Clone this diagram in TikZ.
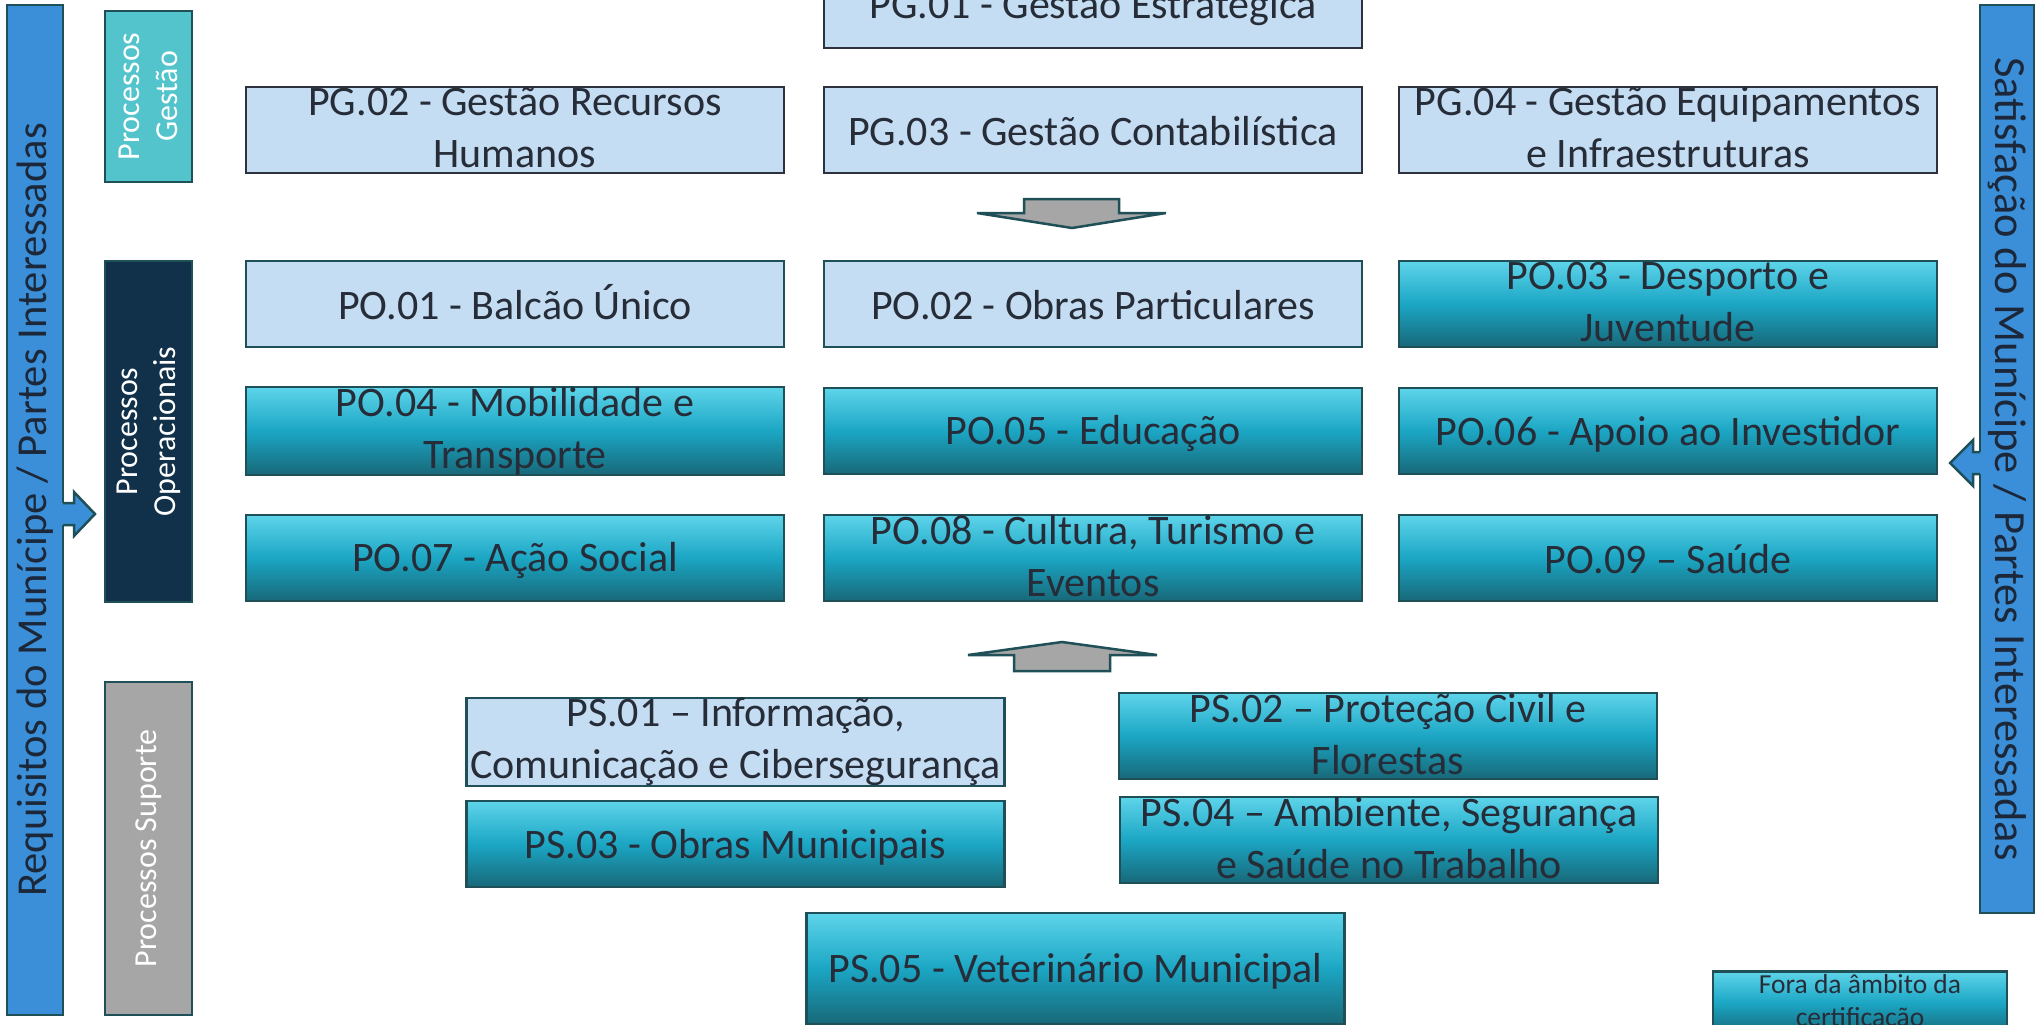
\documentclass[tikz,border=0pt]{standalone}
\usepackage{fontspec}
\setmainfont{Carlito}
\usepackage{tikz}
\definecolor{boxline}{RGB}{31,80,88}
\definecolor{pgline}{RGB}{45,50,62}
\definecolor{lightfill}{RGB}{197,221,242}
\definecolor{cytop}{RGB}{94,212,234}
\definecolor{cymid}{RGB}{27,166,196}
\definecolor{cybot}{RGB}{24,104,120}
\definecolor{txt}{RGB}{38,44,56}
\definecolor{sidetxt}{RGB}{28,40,58}
\definecolor{sidefill}{RGB}{59,143,216}
\definecolor{gestfill}{RGB}{84,196,204}
\definecolor{opfill}{RGB}{17,48,73}
\definecolor{supfill}{RGB}{166,166,166}
\newcommand{\bxstrut}{\rule[-5pt]{0pt}{40pt}}

\begin{document}
\begin{tikzpicture}[x=1pt,y=-1pt]
\tikzstyle{every node}+=[inner sep=0pt,outer sep=0pt]
\tikzstyle{proc}=[draw=boxline,line width=2.5pt,text=txt,align=center,minimum width=538,minimum height=86,font=\fontsize{42}{52}\selectfont,execute at begin node=\bxstrut,execute at end node=\bxstrut]
\tikzstyle{lightbox}=[proc,fill=lightfill]
\tikzstyle{pgbox}=[lightbox,draw=pgline]
\tikzstyle{gradbox}=[proc,top color=cytop,bottom color=cybot,middle color=cymid]
\tikzstyle{sidebar}=[draw=boxline,line width=2.5pt,fill=sidefill,text=sidetxt]
\tikzstyle{group}=[draw=boxline,line width=2.5pt,text=white,align=center,rotate=90,minimum height=87,font=\fontsize{32}{38}\selectfont]
\tikzstyle{blockarrow}=[draw=boxline,line width=2.5pt,fill=supfill,line join=miter]
\useasboundingbox (0,0) rectangle (2040,1025);
\fill[white] (0,0) rectangle (2040,1025);

\node[sidebar,rotate=90,minimum width=1010,minimum height=56,font=\fontsize{42.6}{50}\selectfont] (req) at (35,510) {Requisitos do Munícipe / Partes Interessadas};
\node[sidebar,rotate=-90,minimum width=908,minimum height=54,font=\fontsize{44.5}{50}\selectfont] (sat) at (2007,459) {Satisfação do Munícipe / Partes Interessadas};
\fill[sidefill] (60,503) -- (74,503) -- (74,492) -- (95,514) -- (74,536) -- (74,525) -- (60,525) -- cycle;
\draw[boxline,line width=2.5pt] (63,503) -- (74,503) -- (74,492) -- (95,514) -- (74,536) -- (74,525) -- (63,525);
\fill[sidefill] (1983,452) -- (1973,452) -- (1973,440) -- (1950,463) -- (1973,486) -- (1973,474) -- (1983,474) -- cycle;
\draw[boxline,line width=2.5pt] (1980,452) -- (1973,452) -- (1973,440) -- (1950,463) -- (1973,486) -- (1973,474) -- (1980,474);

\node[group,fill=gestfill,minimum width=171] (gest) at (148.5,96.5) {Processos\\Gestão};
\node[group,fill=opfill,minimum width=341] (oper) at (148.5,431.5) {Processos\\Operacionais};
\node[group,fill=supfill,minimum width=333] (sup) at (148.5,848.5) {Processos Suporte};

\node[pgbox] (pg01) at (1093,5) {PG.01 - Gestão Estratégica};
\node[pgbox] (pg02) at (515,130) {PG.02 - Gestão Recursos\\Humanos};
\node[pgbox] (pg03) at (1093,130) {PG.03 - Gestão Contabilística};
\node[pgbox] (pg04) at (1668,130) {PG.04 - Gestão Equipamentos\\e Infraestruturas};

\draw[blockarrow] (1024,199) -- (1119,199) -- (1119,213) -- (1166,213) -- (1072,228) -- (977,213) -- (1024,213) -- cycle;

\node[lightbox] (po01) at (515,304) {PO.01 - Balcão Único};
\node[lightbox] (po02) at (1093,304) {PO.02 - Obras Particulares};
\node[gradbox] (po03) at (1668,304) {PO.03 - Desporto e\\Juventude};
\node[gradbox] (po04) at (515,431) {PO.04 - Mobilidade e\\Transporte};
\node[gradbox] (po05) at (1093,431) {PO.05 - Educação};
\node[gradbox] (po06) at (1668,431) {PO.06 - Apoio ao Investidor};
\node[gradbox] (po07) at (515,558) {PO.07 - Ação Social};
\node[gradbox] (po08) at (1093,558) {PO.08 - Cultura, Turismo e\\Eventos};
\node[gradbox] (po09) at (1668,558) {PO.09 – Saúde};

\draw[blockarrow] (1014,671) -- (1110,671) -- (1110,655) -- (1157,655) -- (1062,642) -- (968,655) -- (1014,655) -- cycle;

\node[lightbox] (ps01) at (735.5,742) {PS.01 – Informação,\\Comunicação e Cibersegurança};
\node[gradbox] (ps02) at (1388,736) {PS.02 – Proteção Civil e\\Florestas};
\node[gradbox] (ps03) at (735.5,844) {PS.03 - Obras Municipais};
\node[gradbox] (ps04) at (1389,840) {PS.04 – Ambiente, Segurança\\e Saúde no Trabalho};
\node[gradbox,minimum height=111] (ps05) at (1075.5,968.5) {PS.05 - Veterinário Municipal};

\node[gradbox,minimum width=294,minimum height=63,font=\fontsize{27.5}{33}\selectfont,execute at begin node={},execute at end node={}] (legend) at (1860,1003) {Fora da âmbito da\\certificação};
\end{tikzpicture}
\end{document}
